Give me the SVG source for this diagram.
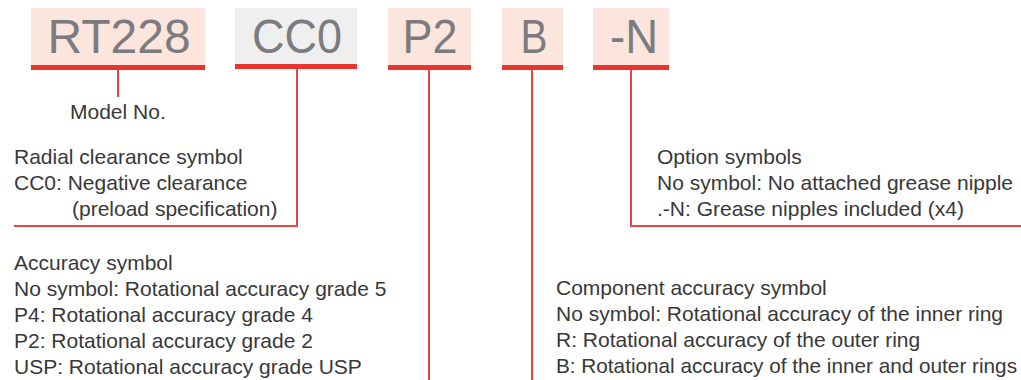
<svg xmlns="http://www.w3.org/2000/svg" width="1021" height="380" viewBox="0 0 1021 380">
<style>
.box{fill:#fce5dc}
.boxg{fill:#efefef}
.bar{fill:#e8352d}
.code{font-family:"Liberation Sans",Arial,sans-serif;font-size:48px;fill:#7b7b80;text-anchor:middle}
.t{font-family:"Liberation Sans",Arial,sans-serif;font-size:21px;fill:#383838}
.ln{stroke:#e8463c;stroke-width:2;fill:none}
</style>
<rect width="1021" height="380" fill="#ffffff"/>
<g id="node-rt228">
<rect class="box" x="31" y="8" width="174" height="57"/>
<rect class="bar" x="31" y="65" width="174" height="5"/>
<text class="code" x="119" y="53">RT228</text>
</g>
<g id="node-cc0">
<rect class="boxg" x="235" y="8" width="122" height="56"/>
<rect class="bar" x="235" y="64" width="122" height="5"/>
<text class="code" x="297" y="53" textLength="90" lengthAdjust="spacingAndGlyphs">CC0</text>
</g>
<g id="node-p2">
<rect class="box" x="388" y="8" width="83" height="57"/>
<rect class="bar" x="388" y="65" width="83" height="5"/>
<text class="code" x="430" y="53" textLength="55" lengthAdjust="spacingAndGlyphs">P2</text>
</g>
<g id="node-b">
<rect class="box" x="502" y="8" width="61" height="57"/>
<rect class="bar" x="502" y="65" width="61" height="5"/>
<text class="code" x="534" y="53" textLength="27" lengthAdjust="spacingAndGlyphs">B</text>
</g>
<g id="node-n">
<rect class="box" x="593" y="8" width="76" height="57"/>
<rect class="bar" x="593" y="65" width="76" height="5"/>
<text class="code" x="634" y="53" textLength="48" lengthAdjust="spacingAndGlyphs">-N</text>
</g>
<g id="connectors">
<line class="ln" x1="118" y1="70" x2="118" y2="97"/>
<polyline class="ln" points="297,69 297,226 14,226"/>
<line class="ln" x1="429" y1="70" x2="429" y2="380"/>
<line class="ln" x1="532" y1="70" x2="532" y2="380"/>
<polyline class="ln" points="631,70 631,226 1021,226"/>
</g>
<g id="label-model">
<text class="t" x="70" y="119">Model No.</text>
</g>
<g id="label-radial">
<text class="t" x="14" y="164">Radial clearance symbol</text>
<text class="t" x="14" y="190">CC0: Negative clearance</text>
<text class="t" x="72" y="216">(preload specification)</text>
</g>
<g id="label-option">
<text class="t" x="657" y="164">Option symbols</text>
<text class="t" x="657" y="190">No symbol: No attached grease nipple</text>
<text class="t" x="657" y="216">.-N: Grease nipples included (x4)</text>
</g>
<g id="label-accuracy">
<text class="t" x="14" y="270">Accuracy symbol</text>
<text class="t" x="14" y="296">No symbol: Rotational accuracy grade 5</text>
<text class="t" x="14" y="322">P4: Rotational accuracy grade 4</text>
<text class="t" x="14" y="348">P2: Rotational accuracy grade 2</text>
<text class="t" x="14" y="374">USP: Rotational accuracy grade USP</text>
</g>
<g id="label-component">
<text class="t" x="556" y="295">Component accuracy symbol</text>
<text class="t" x="556" y="321">No symbol: Rotational accuracy of the inner ring</text>
<text class="t" x="556" y="347">R: Rotational accuracy of the outer ring</text>
<text class="t" x="556" y="373" textLength="461" lengthAdjust="spacingAndGlyphs">B: Rotational accuracy of the inner and outer rings</text>
</g>
</svg>
